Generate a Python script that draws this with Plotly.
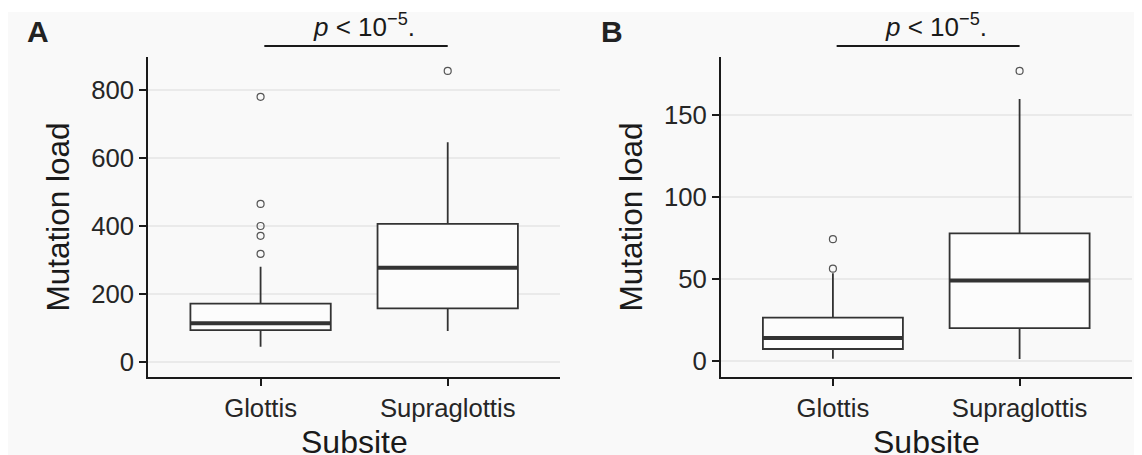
import plotly.graph_objects as go

# ---------------- data ----------------
categories = ["Glottis", "Supraglottis"]

# Panel A (Mutation load)
a_q1 = [93, 157]
a_median = [113, 276]
a_q3 = [171, 405]
a_low = [44, 90]
a_high = [279, 645]
a_out_glottis = [779, 464, 399, 370, 317]
a_out_supra = [855]

# Panel B
b_q1 = [7.1, 19.8]
b_median = [13.9, 48.9]
b_q3 = [26.3, 77.8]
b_low = [1.2, 1.0]
b_high = [53.4, 159.9]
b_out_glottis = [74.2, 56.2]
b_out_supra = [177]

p_label = "<i>p</i> < 10<sup>\u22125</sup>."
panel_labels = ["A", "B"]
x_title = "Subsite"
y_title = "Mutation load"

# ---------------- style ----------------
OFF = 8                      # page body margin of the html page
SW, SH = 1142, 455           # screenshot size
W, H = SW - OFF, SH - OFF    # figure size
BG = "#f9f9f9"
LINE = "#333333"
AXC = "#1a1a1a"
FONT = "Liberation Sans, Arial, sans-serif"
BOXW = 0.75


def px(x):   # screen x -> paper
    return (x - OFF) / W


def py(y):   # screen y -> paper
    return 1 - (y - OFF) / H


fig = go.Figure()


def add_panel(q1, med, q3, lo, hi, outs, xa, ya):
    for i in range(len(categories)):
        fig.add_trace(go.Box(
            x=[i], q1=[q1[i]], median=[med[i]], q3=[q3[i]],
            lowerfence=[lo[i]], upperfence=[hi[i]],
            width=BOXW, fillcolor="#fcfcfc",
            line=dict(color=LINE, width=1.8),
            boxpoints=False, whiskerwidth=0,
            xaxis=xa, yaxis=ya, showlegend=False, hoverinfo="skip"))
        # thick median line, as in ggplot
        fig.add_trace(go.Scatter(
            x=[i - BOXW / 2, i + BOXW / 2], y=[med[i], med[i]],
            mode="lines", line=dict(color=LINE, width=4),
            xaxis=xa, yaxis=ya, showlegend=False, hoverinfo="skip"))
        fig.add_trace(go.Scatter(
            x=[i] * len(outs[i]), y=outs[i], mode="markers",
            marker=dict(symbol="circle-open", size=7, color="#555555",
                        line=dict(width=1.2, color="#555555")),
            xaxis=xa, yaxis=ya, showlegend=False, hoverinfo="skip"))


add_panel(a_q1, a_median, a_q3, a_low, a_high, [a_out_glottis, a_out_supra], "x", "y")
add_panel(b_q1, b_median, b_q3, b_low, b_high, [b_out_glottis, b_out_supra], "x2", "y2")

ydom = [py(377), py(57)]
xdomA = [px(148.3), px(560)]
xdomB = [px(720.9), px(1131.6)]

xcommon = dict(range=[-0.6, 1.6], tickmode="array", tickvals=[0, 1], ticktext=categories,
               showline=True, linecolor=AXC, linewidth=2, ticks="outside", ticklen=7,
               tickwidth=1.8, tickcolor=AXC, showgrid=False, zeroline=False, automargin=False,
               tickfont=dict(size=25.7, color="#262626", family=FONT))
ycommon = dict(showline=True, linecolor=AXC, linewidth=2, ticks="outside", ticklen=7,
               tickwidth=1.8, tickcolor=AXC, showgrid=True, gridcolor="#eaeaea", gridwidth=2,
               zeroline=False, automargin=False, tickfont=dict(size=25.7, color="#262626", family=FONT),
               title=dict(text=y_title, font=dict(size=31.5, color=AXC, family=FONT), standoff=12))

fig.update_layout(
    width=W, height=H, margin=dict(l=0, r=0, t=0, b=0, autoexpand=False),
    paper_bgcolor="white", plot_bgcolor="rgba(0,0,0,0)",
    font=dict(family=FONT, color=AXC),
    xaxis=dict(domain=xdomA, anchor="y", **xcommon),
    yaxis=dict(domain=ydom, anchor="x", range=[-45, 896], tickvals=[0, 200, 400, 600, 800], **ycommon),
    xaxis2=dict(domain=xdomB, anchor="y2", **xcommon),
    yaxis2=dict(domain=ydom, anchor="x2", range=[-10, 185.5], tickvals=[0, 50, 100, 150], **ycommon),
)

# grey panel background (white strip at top)
fig.add_shape(type="rect", xref="paper", yref="paper", x0=0, x1=1, y0=0, y1=py(12),
              fillcolor=BG, line=dict(width=0), layer="below")

line_y = py(46)
for xa, lab, lx in [("x", panel_labels[0], 25), ("x2", panel_labels[1], 599)]:
    fig.add_shape(type="line", xref=xa, yref="paper", x0=0.02, x1=1.0, y0=line_y, y1=line_y,
                  line=dict(color=AXC, width=1.8))
    fig.add_annotation(xref=xa, yref="paper", x=0.55, y=py(44), xanchor="center",
                       yanchor="bottom", text=p_label, showarrow=False,
                       font=dict(size=26, color=AXC, family=FONT))
    fig.add_annotation(xref="paper", yref="paper", x=px(lx), y=py(13), xanchor="left",
                       yanchor="top", text="<b>%s</b>" % lab, showarrow=False,
                       font=dict(size=30, color="#222222", family=FONT))
    # x-axis title (ggplot places it partly below the image edge)
    fig.add_annotation(xref=xa, yref="paper", x=0.5, y=py(442), xanchor="center",
                       yanchor="middle", text=x_title, showarrow=False,
                       font=dict(size=32, color=AXC, family=FONT))

fig.write_html("out.html")
